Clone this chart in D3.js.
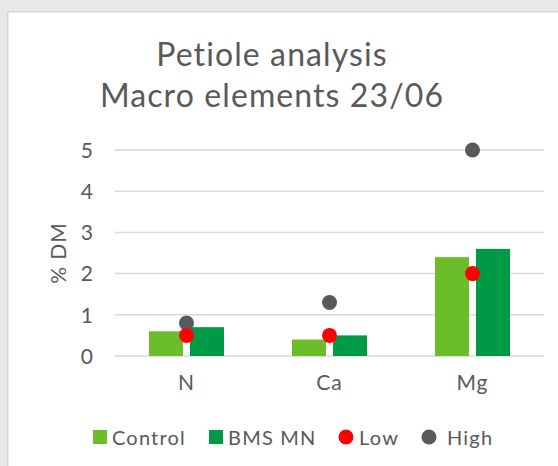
<!DOCTYPE html>
<html><head><meta charset="utf-8">
<script src="https://cdn.jsdelivr.net/npm/d3@7"></script>
<style>
html,body{margin:0;padding:0;background:#e8e8e8;}
svg{display:block;}
text{font-family:Lato,"Open Sans",sans-serif;fill:#595959;}
</style></head>
<body>
<svg id="c" width="558" height="466"></svg>
<script>
const categories = ["N", "Ca", "Mg"];
const controlValues = [0.6, 0.4, 2.4];
const bmsValues = [0.7, 0.5, 2.6];
const lowValues = [0.5, 0.5, 2.0];
const highValues = [0.8, 1.3, 5.0];
const yTicks = [0, 1, 2, 3, 4, 5];
const titleLines = ["Petiole analysis", "Macro elements 23/06"];
const yTitle = "% DM";
const legendItems = [
  {name: "Control", shape: "square", color: "#6cbd2a"},
  {name: "BMS MN", shape: "square", color: "#009a46"},
  {name: "Low", shape: "circle", color: "#ff0000"},
  {name: "High", shape: "circle", color: "#595959"}
];

const svg = d3.select("#c");
// card
svg.append("rect").attr("x", 7.75).attr("y", 11.75).attr("width", 600).attr("height", 600)
  .attr("fill", "#ffffff").attr("stroke", "#d6d6d6").attr("stroke-width", 1.5);

// title
svg.append("text").attr("x", 272).attr("y", 66).attr("text-anchor", "middle")
  .style("font-size", "32px").style("letter-spacing", "1.1px").text(titleLines[0]);
svg.append("text").attr("x", 272).attr("y", 107).attr("text-anchor", "middle")
  .style("font-size", "32px").style("letter-spacing", "1.1px").text(titleLines[1]);

const x = d3.scaleBand().domain(categories).range([115, 544]);
const y = d3.scaleLinear().domain([0, 5]).range([356, 150]);

// gridlines
svg.append("g").selectAll("line").data(yTicks).join("line")
  .attr("x1", 115).attr("x2", 544)
  .attr("y1", d => y(d)).attr("y2", d => y(d))
  .attr("stroke", "#d9d9d9").attr("stroke-width", 1.5);

// y axis labels
const yAxis = d3.axisLeft(y).tickValues(yTicks).tickSize(0).tickPadding(0).tickFormat(d3.format("d"));
const yg = svg.append("g").attr("transform", "translate(93,0)").call(yAxis);
yg.select(".domain").remove();
yg.selectAll("text").style("font-size", "21px").attr("fill", "#595959").attr("dy", "0.35em");

// x axis labels
const xAxis = d3.axisBottom(x).tickSize(0).tickPadding(0);
const xg = svg.append("g").attr("transform", "translate(0,375)").call(xAxis);
xg.select(".domain").remove();
xg.selectAll("text").style("font-size", "21px").style("letter-spacing", "1px").attr("fill", "#595959").attr("dy", "0.71em");

// y title
svg.append("text").attr("transform", "translate(66,253) rotate(-90)").attr("text-anchor", "middle")
  .style("font-size", "21px").style("letter-spacing", "1px").text(yTitle);

// bars
const barW = 34, gap = 7;
svg.append("g").selectAll("rect").data(controlValues).join("rect")
  .attr("x", (d, i) => x(categories[i]) + x.bandwidth() / 2 - gap / 2 - barW)
  .attr("y", d => y(d)).attr("width", barW).attr("height", d => y(0) - y(d))
  .attr("fill", legendItems[0].color);
svg.append("g").selectAll("rect").data(bmsValues).join("rect")
  .attr("x", (d, i) => x(categories[i]) + x.bandwidth() / 2 + gap / 2)
  .attr("y", d => y(d)).attr("width", barW).attr("height", d => y(0) - y(d))
  .attr("fill", legendItems[1].color);

// markers
svg.append("g").selectAll("circle").data(highValues).join("circle")
  .attr("cx", (d, i) => x(categories[i]) + x.bandwidth() / 2)
  .attr("cy", d => y(d)).attr("r", 7.5).attr("fill", legendItems[3].color);
svg.append("g").selectAll("circle").data(lowValues).join("circle")
  .attr("cx", (d, i) => x(categories[i]) + x.bandwidth() / 2)
  .attr("cy", d => y(d)).attr("r", 7.5).attr("fill", legendItems[2].color);

// legend
const legendX = [93, 209, 339, 422];
const legendTextX = [112, 228, 359, 447];
const lg = svg.append("g");
legendItems.forEach((it, i) => {
  if (it.shape === "square") {
    lg.append("rect").attr("x", legendX[i]).attr("y", 430).attr("width", 14).attr("height", 14).attr("fill", it.color);
  } else {
    lg.append("circle").attr("cx", legendX[i] + 7).attr("cy", 437).attr("r", 7.5).attr("fill", it.color);
  }
  lg.append("text").attr("x", legendTextX[i]).attr("y", 444.5).style("font-size", "20px")
    .style("letter-spacing", "1.2px").text(it.name);
});
</script>
</body></html>
